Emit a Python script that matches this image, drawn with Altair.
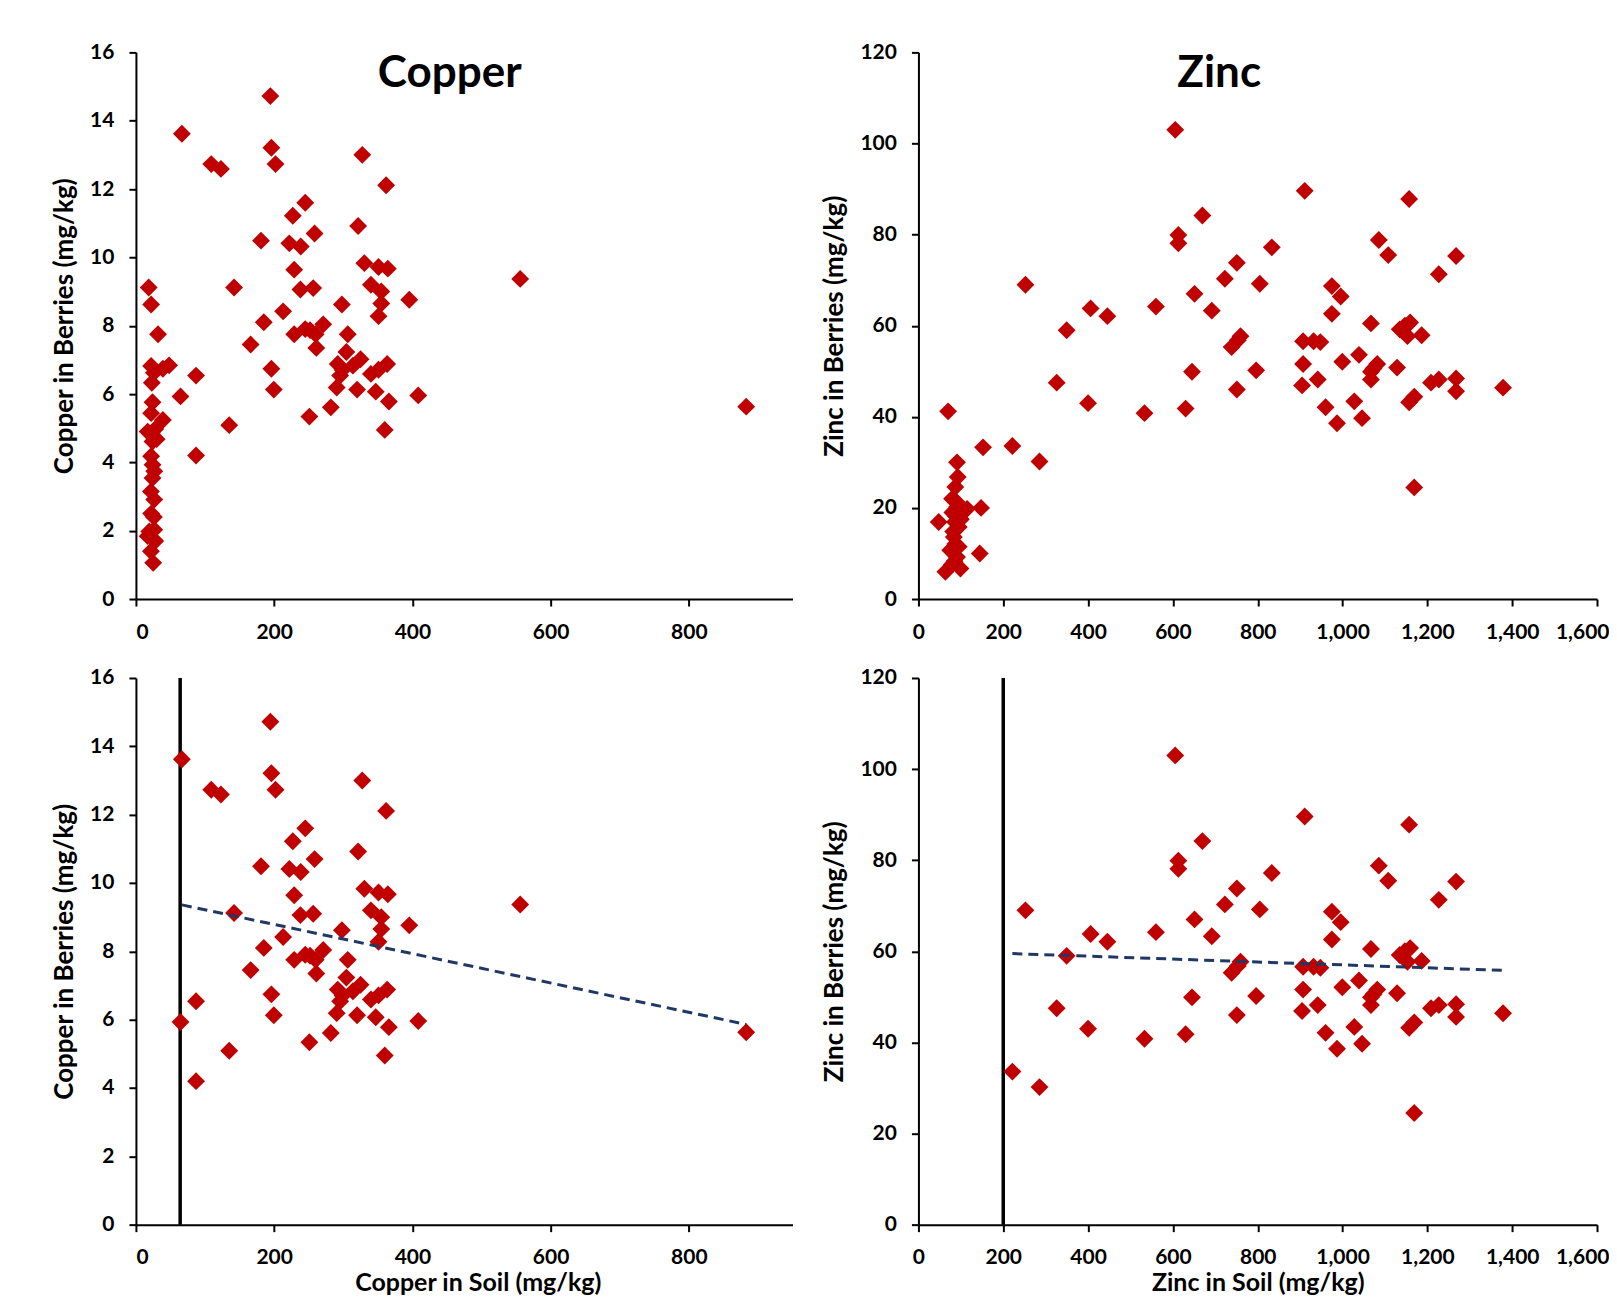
import altair as alt
import pandas as pd

FONT = "Lato"
RED = "#C00000"
NAVY = "#1F3864"

# ---------------- Copper data (soil mg/kg, berries mg/kg) ----------------
cu_soil = [18.5, 22, 32, 22, 26, 23, 39, 48, 24, 22, 39, 17, 23, 28, 24, 30, 22, 24, 26.5, 24,
           21.7, 26.5, 22, 26, 19.3, 26.5, 17, 28, 21.7, 25,
           64.5, 66.5, 87, 87, 109, 123, 135, 142, 166, 181, 185, 194.5, 196, 196, 199.5, 202,
           213, 222, 227, 229, 229, 238.5, 238, 245, 245, 252, 251, 256.5, 258.5, 260, 261,
           271, 282, 290.5, 292, 295.5, 298, 299, 304.5, 306.5, 314, 320, 321.5, 325, 327.5,
           330.5, 340, 340, 347, 351, 351, 351, 355, 355, 360, 362, 363.5, 364.5, 366, 395.5,
           408.5, 556, 883]
cu_berry = [9.12, 8.62, 7.75, 6.82, 6.62, 6.33, 6.74, 6.84, 5.76, 5.44, 5.24, 4.9, 4.86, 4.98, 4.61,
            4.68, 4.18, 3.93, 3.74, 3.54, 3.15, 2.91, 2.5, 2.4, 1.98, 2.03, 1.84, 1.7, 1.4, 1.06,
            5.93, 13.62, 4.2, 6.54, 12.73, 12.59, 5.09, 9.12, 7.45, 10.49, 8.1, 14.72, 13.21, 6.74,
            6.13, 12.73, 8.42, 10.41, 11.22, 9.64, 7.75, 10.32, 9.06, 11.6, 7.9, 7.87, 5.34, 9.1,
            10.7, 7.75, 7.35, 8.04, 5.61, 6.19, 6.88, 6.54, 8.62, 6.71, 7.23, 7.75, 6.83, 6.13,
            10.92, 7.02, 13.0, 9.83, 9.2, 6.59, 6.07, 9.72, 8.28, 6.71, 9.0, 8.65, 4.95, 12.11,
            6.88, 9.67, 5.78, 8.76, 5.96, 9.37, 5.63]

# ---------------- Zinc data (soil mg/kg, berries mg/kg) ----------------
zn_soil = [47.8, 70, 91, 92.7, 87, 79.4, 90, 91, 114.7, 147.7, 80, 88, 100, 86, 95, 82, 83.5, 87,
           95, 75, 144.6, 91, 85, 79, 99, 63.6, 152.4,
           221.5, 252.3, 285.5, 326, 349.5, 400, 406, 445.5, 533, 560, 605.5, 612.9, 612.9, 630,
           645, 651, 669.5, 691.7, 722.5, 738.5, 750.8, 750.8, 753, 759.4, 796.3, 804.9, 833.2,
           904.6, 907, 907, 910.8, 931.7, 941.5, 947.7, 960, 974.8, 974.8, 987, 995.7, 999.4,
           1027.7, 1038.8, 1046, 1067, 1067, 1067, 1073, 1081.8, 1085.5, 1107.7, 1128.6, 1134.8,
           1147, 1153, 1157, 1157, 1159.4, 1169.2, 1169, 1186.5, 1208.6, 1227, 1227, 1267.7,
           1267.7, 1267.7, 1378.5]
zn_berry = [16.9, 41.2, 30.0, 26.8, 24.6, 22.0, 21.3, 20.2, 19.8, 20.0, 19.0, 18.2, 17.5, 16.9, 15.8,
            14.8, 13.6, 12.1, 11.5, 10.7, 10.0, 9.2, 8.3, 7.6, 6.7, 6.0, 33.3,
            33.6, 69.0, 30.2, 47.5, 59.0, 43.0, 63.8, 62.1, 40.8, 64.2, 103.0, 79.9, 78.1, 41.8,
            49.9, 67.0, 84.2, 63.3, 70.3, 55.3, 73.8, 46.0, 56.8, 57.7, 50.2, 69.2, 77.2, 46.9,
            51.6, 56.6, 89.6, 56.6, 48.2, 56.4, 42.1, 68.7, 62.6, 38.6, 66.4, 52.1, 43.4, 53.6,
            39.7, 60.5, 49.9, 48.2, 50.6, 51.6, 78.8, 75.5, 50.8, 59.2, 60.0, 57.7, 87.8, 43.2,
            60.7, 44.4, 24.5, 57.9, 47.5, 71.3, 48.2, 75.3, 48.4, 45.6, 46.4]

# thresholds (vertical lines) and linear trend end points
cu_threshold = [64]
zn_threshold = [200]
cu_trend_soil = [66.5, 883]
cu_trend_berry = [9.36, 5.86]
zn_trend_soil = [221.5, 1383]
zn_trend_berry = [59.5, 55.8]

# panel titles
panel_titles = ["Copper", "Zinc"]

# axes
cu_x_ticks = [0, 200, 400, 600, 800]
cu_y_ticks = [0, 2, 4, 6, 8, 10, 12, 14, 16]
zn_x_ticks = [0, 200, 400, 600, 800, 1000, 1200, 1400, 1600]
zn_y_ticks = [0, 20, 40, 60, 80, 100, 120]
cu_x_domain = [0, 950]
cu_y_domain = [0, 16]
zn_x_domain = [0, 1600]
zn_y_domain = [0, 120]

cu_df = pd.DataFrame({"soil": cu_soil, "berry": cu_berry})
zn_df = pd.DataFrame({"soil": zn_soil, "berry": zn_berry})

W_L, W_R, H = 657, 679, 547


def axis_common():
    return dict(domainColor="black", domainWidth=2, tickColor="black", tickWidth=2,
                tickSize=7, grid=False, labelFont=FONT, labelFontSize=21,
                labelFontWeight="bold", labelColor="black", titleFont=FONT,
                titleFontWeight="bold", titleColor="black")


def x_axis(values, title, fmt, title_x=None, flush_last=None):
    kw = axis_common()
    kw.update(values=values, format=fmt, labelPadding=15, titlePadding=3, titleFontSize=25)
    kw["title"] = title
    if title_x is not None:
        kw["titleX"] = title_x
    if flush_last is not None:
        kw["labelAlign"] = {"condition": {"test": f"datum.value == {flush_last}", "value": "right"},
                            "value": "center"}
        kw["labelOffset"] = {"condition": {"test": f"datum.value == {flush_last}", "value": 12},
                             "value": 0}
    return alt.Axis(**kw)


def y_axis(values, title):
    kw = axis_common()
    kw.update(values=values, format="d", labelPadding=15, titlePadding=12, titleFontSize=26,
              title=title)
    return alt.Axis(**kw)


def panel(df, xdom, ydom, xax, yax, width, title=None, title_x=0,
          threshold=None, tsoil=None, tberry=None):
    xenc = alt.X("soil:Q", scale=alt.Scale(domain=xdom, nice=False, zero=False), axis=xax)
    yenc = alt.Y("berry:Q", scale=alt.Scale(domain=ydom, nice=False, zero=False), axis=yax)
    pts = alt.Chart(df).mark_point(shape="diamond", filled=True, size=320, color=RED,
                                   opacity=1, strokeWidth=0).encode(x=xenc, y=yenc)
    layers = []
    if threshold is not None:
        pts = pts.transform_filter(alt.datum.soil >= threshold[0])
        rule = alt.Chart(pd.DataFrame({"soil": threshold})).mark_rule(
            color="black", strokeWidth=3.5).encode(x=xenc)
        layers.append(rule)
    layers.append(pts)
    if tsoil is not None:
        trend = alt.Chart(pd.DataFrame({"soil": tsoil, "berry": tberry})).mark_line(
            color=NAVY, strokeWidth=3, strokeDash=[10, 6]).encode(x=xenc, y=yenc)
        layers.append(trend)
    if title is not None:
        ttl = alt.Chart(pd.DataFrame({"label": [title]})).mark_text(
            font=FONT, fontSize=44, fontWeight="bold", color="black", align="center",
            baseline="alphabetic").encode(text="label:N", x=alt.value(title_x), y=alt.value(35))
        layers.append(ttl)
    return alt.layer(*layers).properties(width=width, height=H)


cu_top = panel(cu_df, cu_x_domain, cu_y_domain,
               x_axis(cu_x_ticks, None, "d"),
               y_axis(cu_y_ticks, "Copper in Berries (mg/kg)"), W_L,
               title=panel_titles[0], title_x=314)
zn_top = panel(zn_df, zn_x_domain, zn_y_domain,
               x_axis(zn_x_ticks, None, ",d", flush_last=1600),
               y_axis(zn_y_ticks, "Zinc in Berries (mg/kg)"), W_R,
               title=panel_titles[1], title_x=301)
cu_bot = panel(cu_df, cu_x_domain, cu_y_domain,
               x_axis(cu_x_ticks, "Copper in Soil (mg/kg)", "d", title_x=342),
               y_axis(cu_y_ticks, "Copper in Berries (mg/kg)"), W_L,
               threshold=cu_threshold, tsoil=cu_trend_soil, tberry=cu_trend_berry)
zn_bot = panel(zn_df, zn_x_domain, zn_y_domain,
               x_axis(zn_x_ticks, "Zinc in Soil (mg/kg)", ",d", flush_last=1600),
               y_axis(zn_y_ticks, "Zinc in Berries (mg/kg)"), W_R,
               threshold=zn_threshold, tsoil=zn_trend_soil, tberry=zn_trend_berry)

chart = alt.concat(cu_top, zn_top, cu_bot, zn_bot, columns=2,
                   spacing={"row": 79, "column": 126}, bounds="flush").properties(
    padding={"left": 43, "top": 33, "right": 0, "bottom": 0}
).configure_view(stroke=None)

chart.save("out.html", embed_options={"renderer": "svg", "actions": False})
